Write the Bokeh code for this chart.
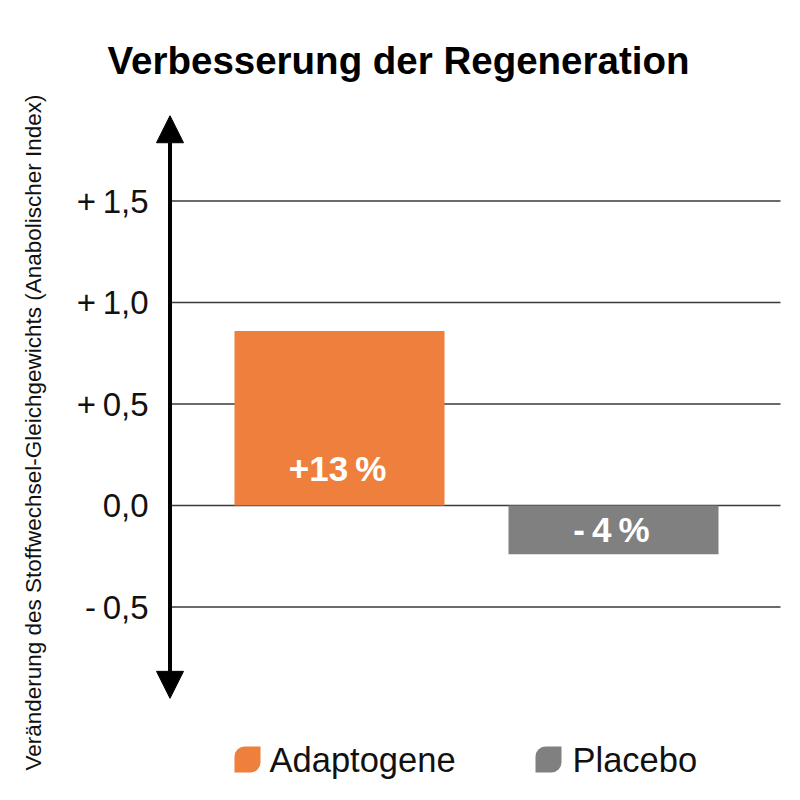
import math
from bokeh.plotting import figure
from bokeh.models import Range1d, Arrow, NormalHead
from bokeh.core.properties import value
from bokeh.embed import file_html
from bokeh.resources import INLINE

# ---------------- data ----------------
title_text = "Verbesserung der Regeneration"
y_label = "Veränderung des Stoffwechsel-Gleichgewichts (Anabolischer Index)"
groups = ["Adaptogene", "Placebo"]
values = [0.86, -0.24]
bar_labels = ["+13\u2009%", "-\u20094\u2009%"]
colors = ["#EF7F3D", "#808080"]
ticks = [-0.5, 0.0, 0.5, 1.0, 1.5]
tick_labels = ["-\u20090,5", "0,0", "+\u20090,5", "+\u20091,0", "+\u20091,5"]
axis_min, axis_max = -0.95, 1.92

# ---------------- layout (pixels) ----------------
W = H = 784
ZERO_PX = 505          # y of value 0, from top
PX_PER_UNIT = 203
BAR0_PX = 339          # centre of first bar
BAR_STEP_PX = 274
BAR_W_PX = 210
AXIS_X_PX = 169.5
GRID_RIGHT_PX = 780
FONT = "Liberation Sans"


def ydat(py):
    return (ZERO_PX - py) / PX_PER_UNIT


def xdat(px):
    return (px - BAR0_PX) / BAR_STEP_PX


p = figure(width=W, height=H, output_backend="svg", toolbar_location=None,
           x_range=Range1d(xdat(0), xdat(W)), y_range=Range1d(ydat(H), ydat(0)),
           x_axis_location=None, y_axis_location=None, min_border=0)
p.grid.visible = False
p.outline_line_color = None
p.background_fill_color = "white"

# grid lines
p.segment(x0=[xdat(AXIS_X_PX)] * len(ticks), x1=[xdat(GRID_RIGHT_PX)] * len(ticks),
          y0=ticks, y1=ticks, line_color="#3a3a3a", line_width=1.3)

# bars
xs = list(range(len(groups)))
p.vbar(x=xs, top=values, bottom=0, width=BAR_W_PX / BAR_STEP_PX,
       fill_color=colors, line_color=None)

# bar labels
lab_y = [0 if v > 0 else v / 2 for v in values]
lab_off = [-37 if v > 0 else 0 for v in values]
p.text(x=xs, y=lab_y, text=bar_labels, y_offset=lab_off, x_offset=-2,
       text_align="center", text_baseline="middle", text_color="white",
       text_font=value(FONT), text_font_style="bold", text_font_size=value("35px"))

# axis arrow
head = dict(size=27, fill_color="black", line_color="black")
p.add_layout(Arrow(start=NormalHead(**head), end=NormalHead(**head),
                   x_start=xdat(AXIS_X_PX), y_start=axis_min,
                   x_end=xdat(AXIS_X_PX), y_end=axis_max,
                   line_width=4, line_color="black"))

# tick labels
p.text(x=[xdat(148)] * len(ticks), y=ticks, text=tick_labels,
       text_align="right", text_baseline="middle", text_color="#111111",
       text_font=value(FONT), text_font_size=value("33px"))

# y label
p.text(x=[xdat(33)], y=[ydat(432)], text=[y_label], angle=math.pi / 2,
       text_align="center", text_baseline="middle", text_color="#111111",
       text_font=value(FONT), text_font_size=value("22.5px"))

# title
p.text(x=[xdat(107)], y=[ydat(60)], text=[title_text],
       text_align="left", text_baseline="alphabetic", text_color="black",
       text_font=value(FONT), text_font_style="bold", text_font_size=value("38.5px"))

# legend
leg_left = [234, 535]
leg_text_x = [269, 572]
p.quad(left=[xdat(v) for v in leg_left], right=[xdat(v + 26) for v in leg_left],
       top=[ydat(746)] * 2, bottom=[ydat(772)] * 2,
       fill_color=colors, line_color=None, border_radius=(10, 0, 10, 0))
p.text(x=[xdat(v) for v in leg_text_x], y=[ydat(759)] * 2, text=groups,
       text_align="left", text_baseline="middle", text_color="#111111",
       text_font=value(FONT), text_font_size=value("34.5px"))

open("out.html", "w").write(file_html(p, INLINE))
